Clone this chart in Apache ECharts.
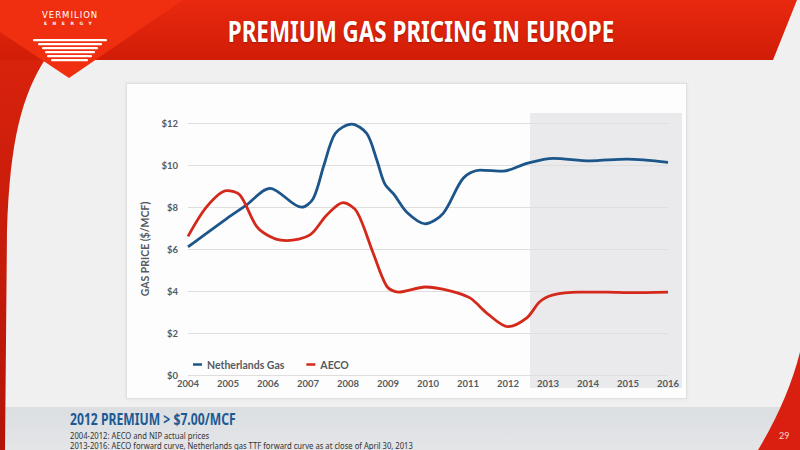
<!DOCTYPE html>
<html>
<head>
<meta charset="utf-8">
<script src="https://cdn.jsdelivr.net/npm/echarts@6/dist/echarts.min.js"></script>
<style>
html,body{margin:0;padding:0;}
#slide{position:relative;width:800px;height:450px;overflow:hidden;background:#f0f0f0;font-family:Lato,"Open Sans",sans-serif;}
#band{position:absolute;left:0;top:407px;width:800px;height:43px;background:linear-gradient(#dcdfe2,#e3e5e7);}
#panel{position:absolute;left:126px;top:83px;width:559px;height:314px;background:#fdfdfd;border:1px solid #e0e0e0;box-shadow:0 0 3px rgba(0,0,0,0.08);}
#shade{position:absolute;left:530px;top:113px;width:152px;height:275px;background:#eaeaed;}
#deco{position:absolute;left:0;top:0;}
#chart{position:absolute;left:0;top:0;width:800px;height:450px;}
.t{position:absolute;white-space:nowrap;}
#title{left:0;width:842px;text-align:center;top:12px;color:#fff;font-family:"Noto Sans",sans-serif;font-weight:bold;font-size:28px;transform:scaleX(0.8);transform-origin:421px 0;text-shadow:0 1px 2px rgba(0,0,0,0.25);}
#logo1{left:42px;top:10px;color:#fff;font-size:8.5px;letter-spacing:1px;font-family:"DejaVu Sans",sans-serif;}
#logo2{left:44px;top:21px;color:#fff;font-size:4.5px;letter-spacing:5.5px;font-family:"DejaVu Sans",sans-serif;font-weight:bold;}
#prem{left:70px;top:408px;color:#1c5a93;font-weight:bold;font-size:16px;font-family:"Noto Sans",sans-serif;transform:scaleX(0.76);transform-origin:0 0;}
#f1,#f2{left:70px;color:#333;font-size:8.5px;line-height:9px;font-family:"Noto Sans",sans-serif;transform:scaleX(0.9);transform-origin:0 0;}
#f1{top:431px;}
#f2{top:440.5px;}
#page{left:779px;top:431px;color:#f4d8d0;font-size:9px;line-height:10px;}
</style>
</head>
<body>
<div id="slide">
  <div id="band"></div>
  <div id="panel"></div>
  <div id="shade"></div>
  <svg id="deco" width="800" height="450">
    <defs>
      <linearGradient id="hg" x1="0" y1="0" x2="0" y2="1">
        <stop offset="0" stop-color="#e8290f"/>
        <stop offset="1" stop-color="#d11c07"/>
      </linearGradient>
      <linearGradient id="lg" x1="0" y1="0" x2="0" y2="1">
        <stop offset="0" stop-color="#d8220c"/>
        <stop offset="1" stop-color="#b3150a"/>
      </linearGradient>
    </defs>
    <path d="M0,58 L46,58 C22,95 10,140 7,230 L5,450 L0,450 Z" fill="url(#lg)"/>
    <path d="M0,0 L797,0 L773,60 L0,60 Z" fill="url(#hg)"/>
    <path d="M0,0 L183,0 L69,78 L0,32 Z" fill="#f02e10"/>
    <path d="M800,352 Q788,400 758,450 L800,450 Z" fill="#d92010"/>
    <g fill="#fff">
      <rect x="33" y="39" width="74" height="2.2" rx="1"/>
      <rect x="38" y="43" width="64" height="2.2" rx="1"/>
      <rect x="42" y="47" width="56" height="2.2" rx="1"/>
      <rect x="45" y="51" width="50" height="2.2" rx="1"/>
      <rect x="47" y="55" width="45" height="2.2" rx="1"/>
      <rect x="51" y="59" width="37" height="2.2" rx="1"/>
    </g>
  </svg>
  <div class="t" id="logo1">VERMILION</div>
  <div class="t" id="logo2">ENERGY</div>
  <div class="t" id="title">PREMIUM GAS PRICING IN EUROPE</div>
  <div id="chart"></div>
  <div class="t" id="prem">2012 PREMIUM &gt; $7.00/MCF</div>
  <div class="t" id="f1">2004-2012: AECO and NIP actual prices</div>
  <div class="t" id="f2">2013-2016: AECO forward curve, Netherlands gas TTF forward curve as at close of April 30, 2013</div>
  <div class="t" id="page">29</div>
</div>
<script>
// Data (x = year position, y = $/MCF)
var xTicks = [2004, 2005, 2006, 2007, 2008, 2009, 2010, 2011, 2012, 2013, 2014, 2015, 2016];
var yTicks = [0, 2, 4, 6, 8, 10, 12];
var nlName = 'Netherlands Gas';
var aecoName = 'AECO';
var nlYears = [2004.0, 2004.97, 2005.43, 2006.05, 2006.84, 2007.13, 2007.4, 2007.68, 2008.09, 2008.47, 2008.72, 2008.92, 2009.15, 2009.47, 2009.93, 2010.38, 2010.88, 2011.3, 2011.88, 2012.47, 2013.13, 2014.05, 2014.97, 2016.0];
var nlValues = [6.1, 7.45, 8.05, 8.89, 7.99, 8.4, 10.0, 11.5, 11.95, 11.5, 10.24, 9.1, 8.6, 7.75, 7.2, 7.7, 9.37, 9.76, 9.71, 10.08, 10.32, 10.2, 10.28, 10.13];
var aecoYears = [2004.0, 2004.47, 2004.97, 2005.3, 2005.72, 2006.13, 2006.47, 2007.05, 2007.47, 2007.88, 2008.22, 2008.63, 2008.97, 2009.26, 2009.93, 2010.55, 2011.05, 2011.5, 2012.0, 2012.47, 2012.8, 2013.13, 2013.76, 2014.5, 2015.05, 2016.0];
var aecoValues = [6.6, 8.02, 8.78, 8.57, 7.07, 6.52, 6.4, 6.67, 7.62, 8.21, 7.78, 5.8, 4.22, 3.95, 4.19, 4.01, 3.67, 2.9, 2.3, 2.72, 3.5, 3.82, 3.95, 3.95, 3.92, 3.95];

function zip(a, b) { return a.map(function (v, i) { return [v, b[i]]; }); }

var chart = echarts.init(document.getElementById('chart'), null, { renderer: 'svg' });
var lblFont = { color: '#555a60', fontWeight: 'bold', fontSize: 9.5, fontFamily: 'Lato, "Open Sans", sans-serif' };
chart.setOption({
  backgroundColor: 'transparent',
  animation: false,
  grid: { left: 188, right: 132, top: 123, bottom: 75 },
  legend: {
    left: 188, top: 354,
    icon: 'rect', itemWidth: 9, itemHeight: 2.5, itemGap: 22,
    textStyle: { color: '#555a60', fontWeight: 'bold', fontSize: 10.5, fontFamily: 'Lato, "Open Sans", sans-serif' },
    data: [nlName, aecoName]
  },
  xAxis: {
    type: 'value', min: xTicks[0], max: xTicks[xTicks.length - 1], interval: 1,
    axisLine: { show: false }, axisTick: { show: false }, splitLine: { show: false },
    axisLabel: Object.assign({ margin: 3, formatter: function (v) { return String(v); } }, lblFont)
  },
  yAxis: {
    type: 'value', min: yTicks[0], max: yTicks[yTicks.length - 1], interval: 2,
    name: 'GAS PRICE ($/MCF)', nameLocation: 'middle', nameRotate: 90, nameGap: 30,
    nameTextStyle: { color: '#555a60', fontWeight: 'bold', fontSize: 10.5, fontFamily: 'Lato, "Open Sans", sans-serif' },
    axisLine: { show: false }, axisTick: { show: false },
    splitLine: { lineStyle: { color: '#dedede', width: 1 } },
    axisLabel: Object.assign({ margin: 10, formatter: function (v) { return '$' + v; } }, lblFont)
  },
  series: [
    { name: nlName, type: 'line', data: zip(nlYears, nlValues), smooth: 0.3, showSymbol: false,
      color: '#1b5589', lineStyle: { width: 2.8, color: '#1b5589' } },
    { name: aecoName, type: 'line', data: zip(aecoYears, aecoValues), smooth: 0.3, showSymbol: false,
      color: '#d3281a', lineStyle: { width: 2.8, color: '#d3281a' } }
  ]
});
</script>
</body>
</html>
